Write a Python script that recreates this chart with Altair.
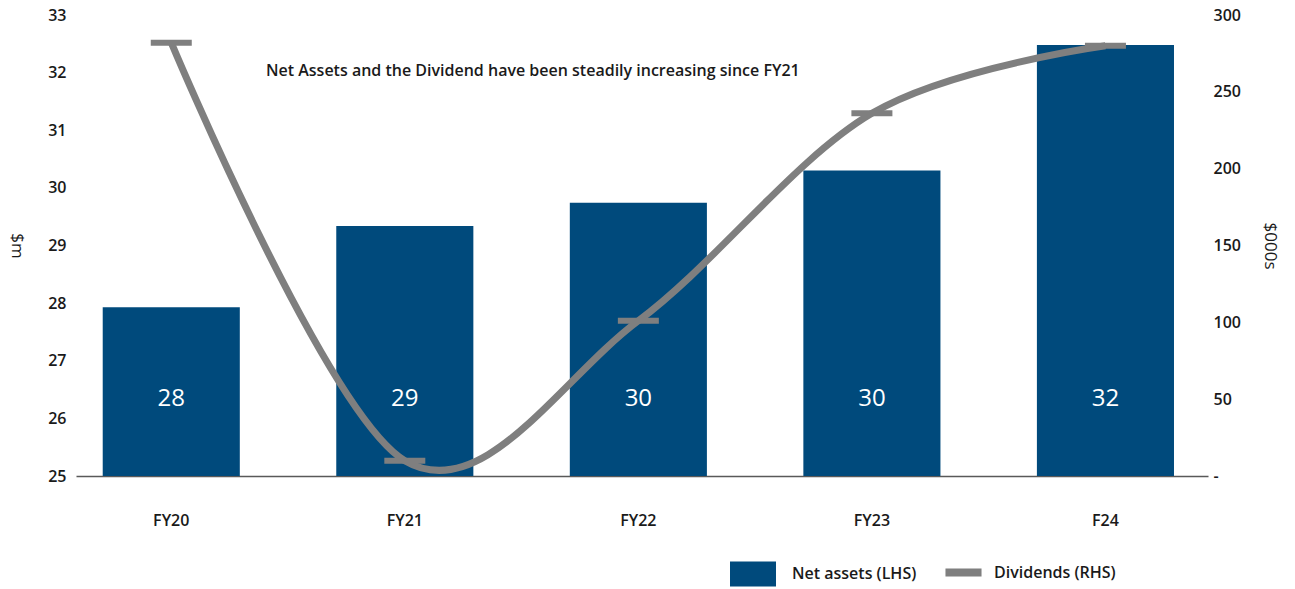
import altair as alt
import pandas as pd

years = ["FY20", "FY21", "FY22", "FY23", "F24"]
net_assets = [27.93, 29.34, 29.74, 30.30, 32.48]
dividends = [282, 10, 101, 236, 280]
left_ticks = [25, 26, 27, 28, 29, 30, 31, 32, 33]
right_ticks = [0, 50, 100, 150, 200, 250, 300]
note = "Net Assets and the Dividend have been steadily increasing since FY21"

df = pd.DataFrame({
    "year": years,
    "net": net_assets,
    "div": dividends,
    "s_bar": ["Net assets (LHS)"] * len(years),
    "s_line": ["Dividends (RHS)"] * len(years),
})

FONT = "Open Sans"
BLUE = "#004a7c"
GREY = "#7f7f7f"
TXT = "#1a1a1a"

xenc = alt.X(
    "year:N", sort=years, title=None,
    scale=alt.Scale(paddingInner=0.413, paddingOuter=0.13, align=0.44),
    axis=alt.Axis(labelAngle=0, ticks=False, domain=True, domainColor="#595959",
                  domainWidth=1.5, labelPadding=36, labelFont=FONT, labelFontSize=16,
                  labelFontWeight=600, labelColor=TXT, labelBaseline="top"),
)

base = alt.Chart(df)

bars = base.mark_bar(color=BLUE).encode(
    x=xenc,
    y=alt.Y("net:Q", scale=alt.Scale(domain=[25, 33], nice=False, zero=False, clamp=True),
            title="$m",
            axis=alt.Axis(values=left_ticks, grid=False, ticks=False, domain=False,
                          labelPadding=10, labelFont=FONT, labelFontSize=16,
                          labelFontWeight=600, labelColor=TXT,
                          titleFont=FONT, titleFontSize=17, titleFontWeight=400,
                          titleColor=TXT, titleAngle=90, titlePadding=40)),
    fill=alt.Fill("s_bar:N", scale=alt.Scale(domain=["Net assets (LHS)"], range=[BLUE]),
                  legend=alt.Legend(title=None, orient="none", legendX=653, legendY=535,
                                    symbolType="M-1,-0.54H1V0.54H-1Z", symbolSize=2116,
                                    symbolOpacity=1, labelFont=FONT, labelFontSize=16,
                                    labelFontWeight=600, labelColor=TXT, labelOffset=15,
                                    padding=0)),
)

labels = base.mark_text(color="white", font=FONT, fontSize=24, baseline="middle").encode(
    x=alt.X("year:N", sort=years),
    y=alt.value(384),
    text=alt.Text("net:Q", format=".0f"),
)

left = alt.layer(bars, labels)

yr = alt.Y("div:Q", scale=alt.Scale(domain=[0, 300], nice=False),
           title="$000s",
           axis=alt.Axis(values=right_ticks, orient="right", grid=False, ticks=False, domain=False,
                         labelPadding=5, labelFont=FONT, labelFontSize=16, labelFontWeight=600,
                         labelColor=TXT, labelExpr="datum.value == 0 ? '-' : datum.label",
                         titleFont=FONT, titleFontSize=17, titleFontWeight=400,
                         titleColor=TXT, titleAngle=90, titlePadding=20)),

line = base.mark_line(strokeWidth=7, interpolate="cardinal").encode(
    x=alt.X("year:N", sort=years),
    y=yr[0],
    stroke=alt.Stroke("s_line:N", scale=alt.Scale(domain=["Dividends (RHS)"], range=[GREY]),
                      legend=alt.Legend(title=None, orient="none", legendX=865, legendY=535,
                                        symbolType="stroke", symbolSize=1300,
                                        symbolStrokeWidth=8, labelFont=FONT, labelFontSize=16,
                                        labelFontWeight=600, labelColor=TXT, labelOffset=8,
                                        padding=0)),
)

marks = base.mark_tick(color=GREY, size=41, thickness=6, opacity=1).encode(
    x=alt.X("year:N", sort=years),
    y=alt.Y("div:Q"),
)

annot = alt.Chart(pd.DataFrame({"t": [note]})).mark_text(
    font=FONT, fontSize=16, fontWeight=600, color=TXT, align="left", baseline="middle"
).encode(x=alt.value(190), y=alt.value(56), text="t:N")

right = alt.layer(line, marks, annot)

chart = alt.layer(left, right).resolve_scale(
    y="independent", fill="independent", stroke="independent"
).properties(
    width=1132, height=461,
    autosize=alt.AutoSizeParams(type="none"),
    padding={"left": 76, "top": 15, "right": 87, "bottom": 113},
).configure(background="white", view=alt.ViewConfig(stroke=None))

chart.save("out.html", embed_options={"renderer": "svg", "actions": False})
